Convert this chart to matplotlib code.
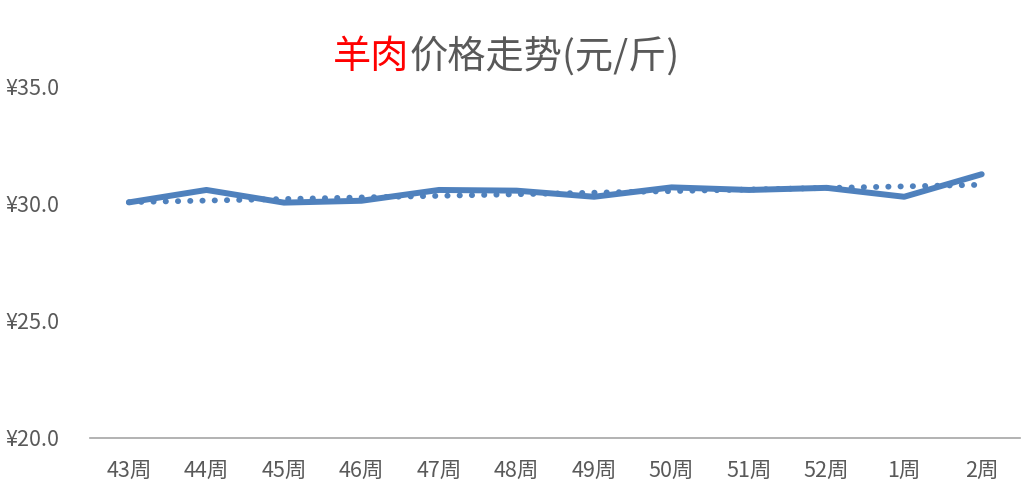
import matplotlib
matplotlib.use("Agg")
import matplotlib.pyplot as plt

plt.rcParams['font.family'] = ['Noto Sans CJK SC', 'DejaVu Sans']

weeks = ["43周", "44周", "45周", "46周", "47周", "48周",
         "49周", "50周", "51周", "52周", "1周", "2周"]
prices = [30.04, 30.57, 30.03, 30.11, 30.57, 30.54,
          30.28, 30.68, 30.57, 30.66, 30.28, 31.24]
# 趋势线两端
trend_ends = [30.05, 30.79]
yticks = [20, 25, 30, 35]

line_color = "#4F81BD"
text_color = "#595959"

fig = plt.figure(figsize=(10.36, 5.0), dpi=100)
ax = fig.add_axes([0.087, 0.124, 0.898, 0.704])

x = list(range(len(weeks)))
ax.plot(x, prices, color=line_color, lw=4.3, solid_capstyle='round',
        solid_joinstyle='round', zorder=3)
ax.plot([x[0], x[-1]], trend_ends, color=line_color, lw=4.2,
        linestyle=(0, (0.05, 2.05)), dash_capstyle='round', zorder=2)

ax.set_xlim(-0.5, len(weeks) - 0.5)
ax.set_ylim(20, 35)
ax.set_xticks(x)
ax.set_xticklabels(weeks)
ax.set_yticks(yticks)
ax.set_yticklabels(["¥{:.1f}".format(v) for v in yticks])

for s in ['top', 'right', 'left']:
    ax.spines[s].set_visible(False)
ax.spines['bottom'].set_color("#A6A6A6")
ax.spines['bottom'].set_linewidth(1.2)
ax.tick_params(axis='both', length=0, labelsize=15.5, colors=text_color)
ax.tick_params(axis='x', pad=16)
ax.tick_params(axis='y', pad=22)

# 标题: 先量出全文宽度, 再分成红/灰两段
tx, ty = 333 / 1036, 1 - 68 / 500
tmp = fig.text(tx, ty, "羊肉价格走势(元/斤)", fontsize=27.5,
               ha='left', va='baseline')
fig.canvas.draw()
x1 = fig.transFigure.inverted().transform(
    tmp.get_window_extent().get_points())[1][0]
tmp.remove()
fig.text(tx, ty, "羊肉", color="red", fontsize=27.5,
         ha='left', va='baseline')
fig.text(x1, ty, "价格走势(元/斤)", color=text_color, fontsize=27.5,
         ha='right', va='baseline')

fig.savefig("out.png", dpi=100)
